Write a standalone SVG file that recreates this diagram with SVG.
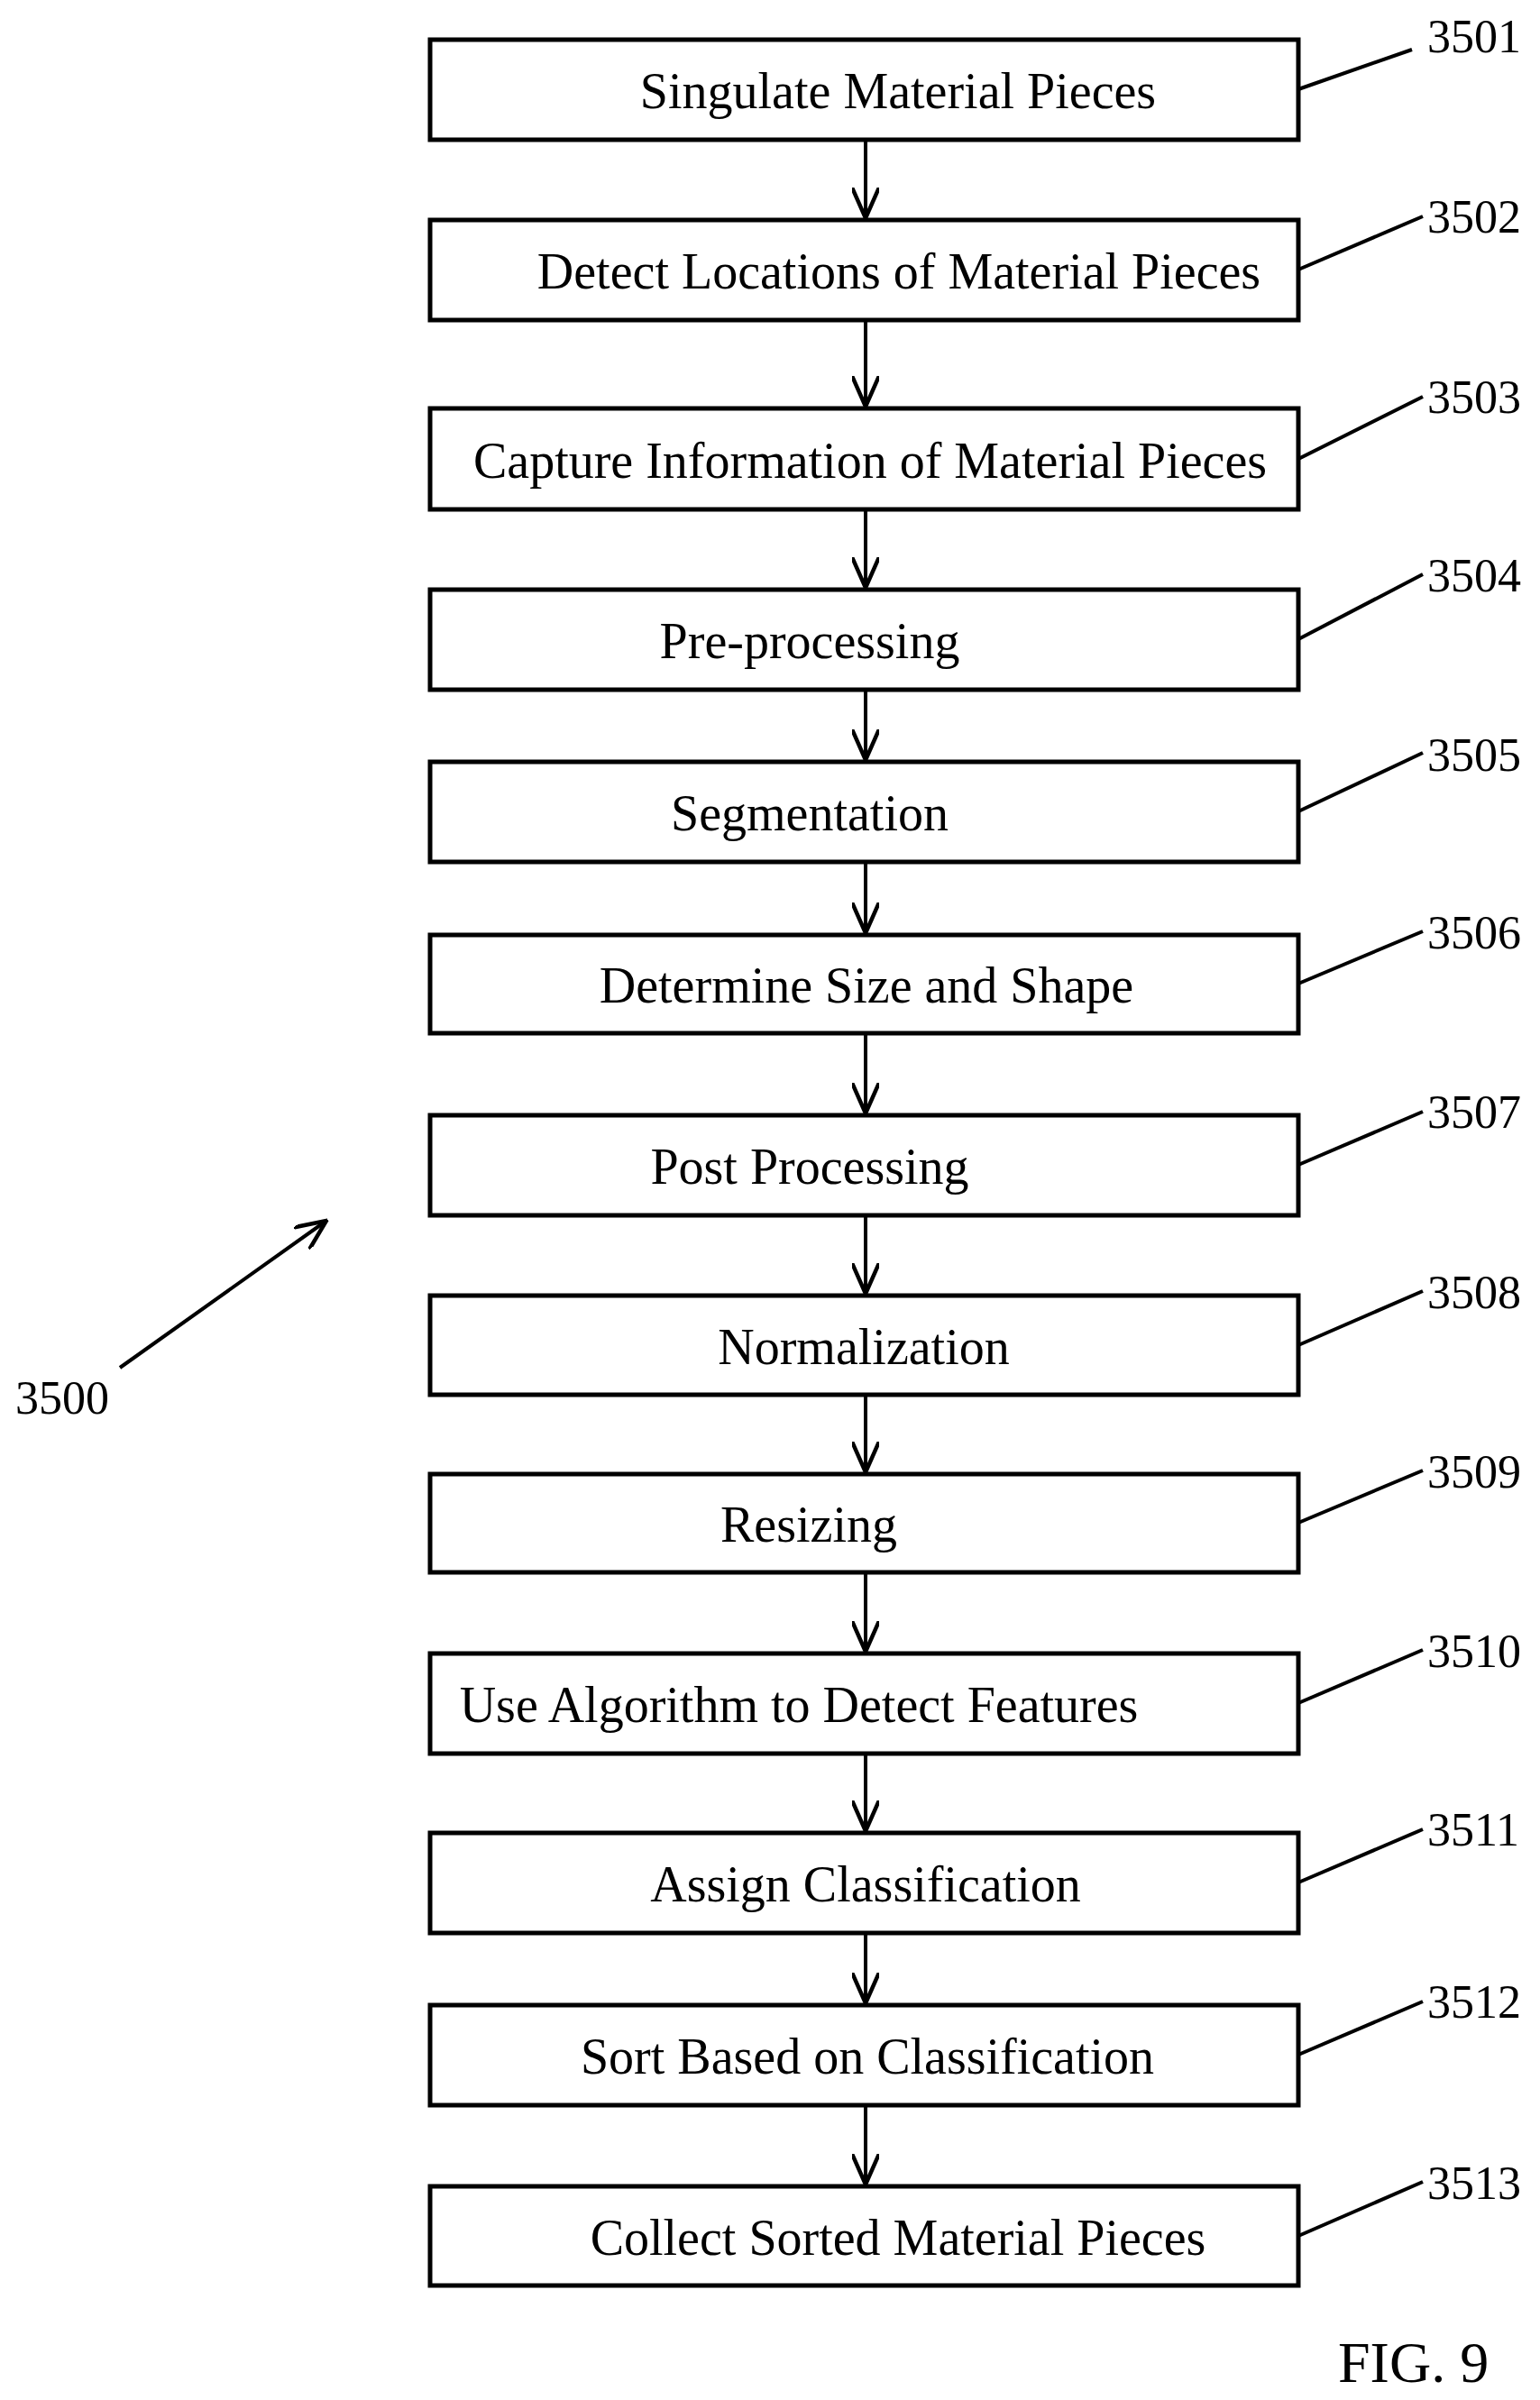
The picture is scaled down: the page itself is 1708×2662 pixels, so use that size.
<svg xmlns="http://www.w3.org/2000/svg" width="1708" height="2662" viewBox="0 0 1708 2662">
<defs>
<style>
.box{fill:#fff;stroke:#000;stroke-width:5}
.t{font-family:"Liberation Serif","Times New Roman",serif;font-size:56px;fill:#000}
.n{font-size:52px}
.c{text-anchor:middle}
.ln{stroke:#000;stroke-width:4;fill:none}
</style>
<marker id="ah2" markerWidth="36" markerHeight="30" refX="34" refY="15" orient="auto" markerUnits="userSpaceOnUse" viewBox="0 0 36 30"><path d="M0,0 L34,15 L0,30" fill="none" stroke="#000" stroke-width="4.5"/></marker>
</defs>
<g id="connectors">
<line class="ln" x1="960" y1="155" x2="960" y2="242" marker-end="url(#ah2)"/>
<line class="ln" x1="960" y1="355" x2="960" y2="451" marker-end="url(#ah2)"/>
<line class="ln" x1="960" y1="565" x2="960" y2="652" marker-end="url(#ah2)"/>
<line class="ln" x1="960" y1="765" x2="960" y2="843" marker-end="url(#ah2)"/>
<line class="ln" x1="960" y1="956" x2="960" y2="1035" marker-end="url(#ah2)"/>
<line class="ln" x1="960" y1="1146" x2="960" y2="1235" marker-end="url(#ah2)"/>
<line class="ln" x1="960" y1="1348" x2="960" y2="1435" marker-end="url(#ah2)"/>
<line class="ln" x1="960" y1="1547" x2="960" y2="1633" marker-end="url(#ah2)"/>
<line class="ln" x1="960" y1="1744" x2="960" y2="1832" marker-end="url(#ah2)"/>
<line class="ln" x1="960" y1="1945" x2="960" y2="2031" marker-end="url(#ah2)"/>
<line class="ln" x1="960" y1="2144" x2="960" y2="2222" marker-end="url(#ah2)"/>
<line class="ln" x1="960" y1="2335" x2="960" y2="2423" marker-end="url(#ah2)"/>
<line class="ln" x1="133" y1="1517" x2="362" y2="1354" marker-end="url(#ah2)"/>
</g>
<g id="n1"><rect class="box" x="477" y="44" width="963" height="111"/><text class="t c" x="996" y="120">Singulate Material Pieces</text><line class="ln" x1="1440" y1="99" x2="1566" y2="55"/><text class="t n" x="1583" y="58">3501</text></g>
<g id="n2"><rect class="box" x="477" y="244" width="963" height="111"/><text class="t c" x="997" y="320">Detect Locations of Material Pieces</text><line class="ln" x1="1440" y1="299" x2="1578" y2="240"/><text class="t n" x="1583" y="258">3502</text></g>
<g id="n3"><rect class="box" x="477" y="453" width="963" height="112"/><text class="t c" x="965" y="530">Capture Information of Material Pieces</text><line class="ln" x1="1440" y1="509" x2="1578" y2="440"/><text class="t n" x="1583" y="458">3503</text></g>
<g id="n4"><rect class="box" x="477" y="654" width="963" height="111"/><text class="t c" x="898" y="730">Pre-processing</text><line class="ln" x1="1440" y1="709" x2="1578" y2="637"/><text class="t n" x="1583" y="656">3504</text></g>
<g id="n5"><rect class="box" x="477" y="845" width="963" height="111"/><text class="t c" x="898" y="921">Segmentation</text><line class="ln" x1="1440" y1="900" x2="1578" y2="835"/><text class="t n" x="1583" y="855">3505</text></g>
<g id="n6"><rect class="box" x="477" y="1037" width="963" height="109"/><text class="t c" x="961" y="1112">Determine Size and Shape</text><line class="ln" x1="1440" y1="1091" x2="1578" y2="1033"/><text class="t n" x="1583" y="1052">3506</text></g>
<g id="n7"><rect class="box" x="477" y="1237" width="963" height="111"/><text class="t c" x="898" y="1313">Post Processing</text><line class="ln" x1="1440" y1="1292" x2="1578" y2="1233"/><text class="t n" x="1583" y="1251">3507</text></g>
<g id="n8"><rect class="box" x="477" y="1437" width="963" height="110"/><text class="t c" x="958" y="1513">Normalization</text><line class="ln" x1="1440" y1="1492" x2="1578" y2="1432"/><text class="t n" x="1583" y="1451">3508</text></g>
<g id="n9"><rect class="box" x="477" y="1635" width="963" height="109"/><text class="t c" x="897" y="1710">Resizing</text><line class="ln" x1="1440" y1="1689" x2="1578" y2="1631"/><text class="t n" x="1583" y="1650">3509</text></g>
<g id="n10"><rect class="box" x="477" y="1834" width="963" height="111"/><text class="t c" x="886" y="1910">Use Algorithm to Detect Features</text><line class="ln" x1="1440" y1="1889" x2="1578" y2="1830"/><text class="t n" x="1583" y="1849">3510</text></g>
<g id="n11"><rect class="box" x="477" y="2033" width="963" height="111"/><text class="t c" x="960" y="2109">Assign Classification</text><line class="ln" x1="1440" y1="2088" x2="1578" y2="2029"/><text class="t n" x="1583" y="2047">3511</text></g>
<g id="n12"><rect class="box" x="477" y="2224" width="963" height="111"/><text class="t c" x="962" y="2300">Sort Based on Classification</text><line class="ln" x1="1440" y1="2279" x2="1578" y2="2220"/><text class="t n" x="1583" y="2238">3512</text></g>
<g id="n13"><rect class="box" x="477" y="2425" width="963" height="110"/><text class="t c" x="996" y="2501">Collect Sorted Material Pieces</text><line class="ln" x1="1440" y1="2480" x2="1578" y2="2420"/><text class="t n" x="1583" y="2439">3513</text></g>
<g id="lbl3500"><text class="t n" x="17" y="1568">3500</text></g>
<g id="fig"><text class="t" x="1484" y="2642" style="font-size:64px">FIG. 9</text></g>
</svg>
